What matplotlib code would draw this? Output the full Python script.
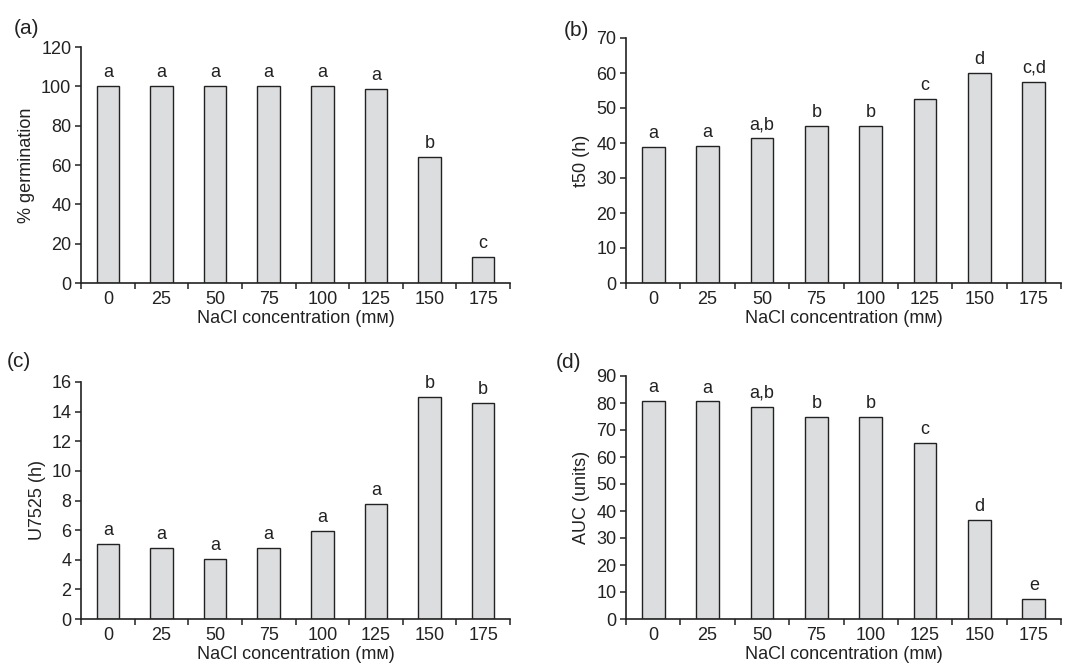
import numpy as np
import matplotlib
matplotlib.use("Agg")
import matplotlib.pyplot as plt

plt.rcParams['font.family'] = ['Liberation Sans', 'DejaVu Sans']
plt.rcParams['font.size'] = 13

nacl = ['0', '25', '50', '75', '100', '125', '150', '175']

germination = [100, 100, 100, 100, 100, 98.5, 64.2, 13.2]
germ_letters = ['a', 'a', 'a', 'a', 'a', 'a', 'b', 'c']

t50 = [39.0, 39.2, 41.3, 44.9, 44.9, 52.5, 60.1, 57.5]
t50_letters = ['a', 'a', 'a,b', 'b', 'b', 'c', 'd', 'c,d']

u7525 = [5.08, 4.81, 4.06, 4.81, 5.94, 7.79, 14.97, 14.56]
u7525_letters = ['a', 'a', 'a', 'a', 'a', 'a', 'b', 'b']

auc = [80.8, 80.6, 78.7, 75.0, 74.8, 65.3, 36.8, 7.4]
auc_letters = ['a', 'a', 'a,b', 'b', 'b', 'c', 'd', 'e']

W, H = 1065, 666
fig = plt.figure(figsize=(W / 100, H / 100), dpi=100)

# axes boxes in pixels: left, right, top, bottom
boxes = [(81, 510, 47, 283), (626, 1061, 38, 283),
         (81, 510, 382, 619), (626, 1061, 376, 619)]
panels = [
    ('(a)', germination, germ_letters, '% germination', 120, 20),
    ('(b)', t50, t50_letters, 't50 (h)', 70, 10),
    ('(c)', u7525, u7525_letters, 'U7525 (h)', 16, 2),
    ('(d)', auc, auc_letters, 'AUC (units)', 90, 10),
]
tag_pos = [(14, 28), (564, 30), (7, 361), (556, 362)]

for (l, r, t, b), (tag, vals, letters, ylab, ymax, step), (tx, ty) in zip(boxes, panels, tag_pos):
    ax = fig.add_axes([l / W, 1 - b / H, (r - l) / W, (b - t) / H])
    x = np.arange(len(nacl))
    ax.bar(x, vals, width=0.42, color='#dcdddf', edgecolor='#222222', linewidth=1.0)
    for xi, v, s in zip(x, vals, letters):
        ax.annotate(s, (xi, v), xytext=(0, 3.5), textcoords='offset points',
                    ha='center', va='bottom', fontsize=13, color='#222222')
    ax.set_xlim(-0.5, 7.5)
    ax.set_ylim(0, ymax)
    ax.set_yticks(np.arange(0, ymax + step / 2, step))
    ax.set_xticks(np.arange(-0.5, 8, 1))
    ax.set_xticklabels([])
    ax.set_xticks(x, minor=True)
    ax.set_xticklabels(nacl, minor=True)
    ax.tick_params(axis='x', which='major', direction='out', length=4, width=1.1, color='#222222')
    ax.tick_params(axis='x', which='minor', length=0, pad=6, labelsize=13, labelcolor='#222222')
    ax.tick_params(axis='y', direction='out', length=4, width=1.1, pad=3, labelsize=13,
                   color='#222222', labelcolor='#222222')
    for sp in ['top', 'right']:
        ax.spines[sp].set_visible(False)
    for sp in ['left', 'bottom']:
        ax.spines[sp].set_linewidth(1.2)
        ax.spines[sp].set_color('#222222')
    ax.set_ylabel(ylab, fontsize=13, color='#222222', labelpad=4)
    ax.set_xlabel('NaCl concentration (m\u1d0d)', fontsize=13, color='#222222', labelpad=1)
    fig.text(tx / W, 1 - ty / H, tag, fontsize=15, color='#222222', va='center', ha='left')

fig.savefig('out.png', dpi=100)
